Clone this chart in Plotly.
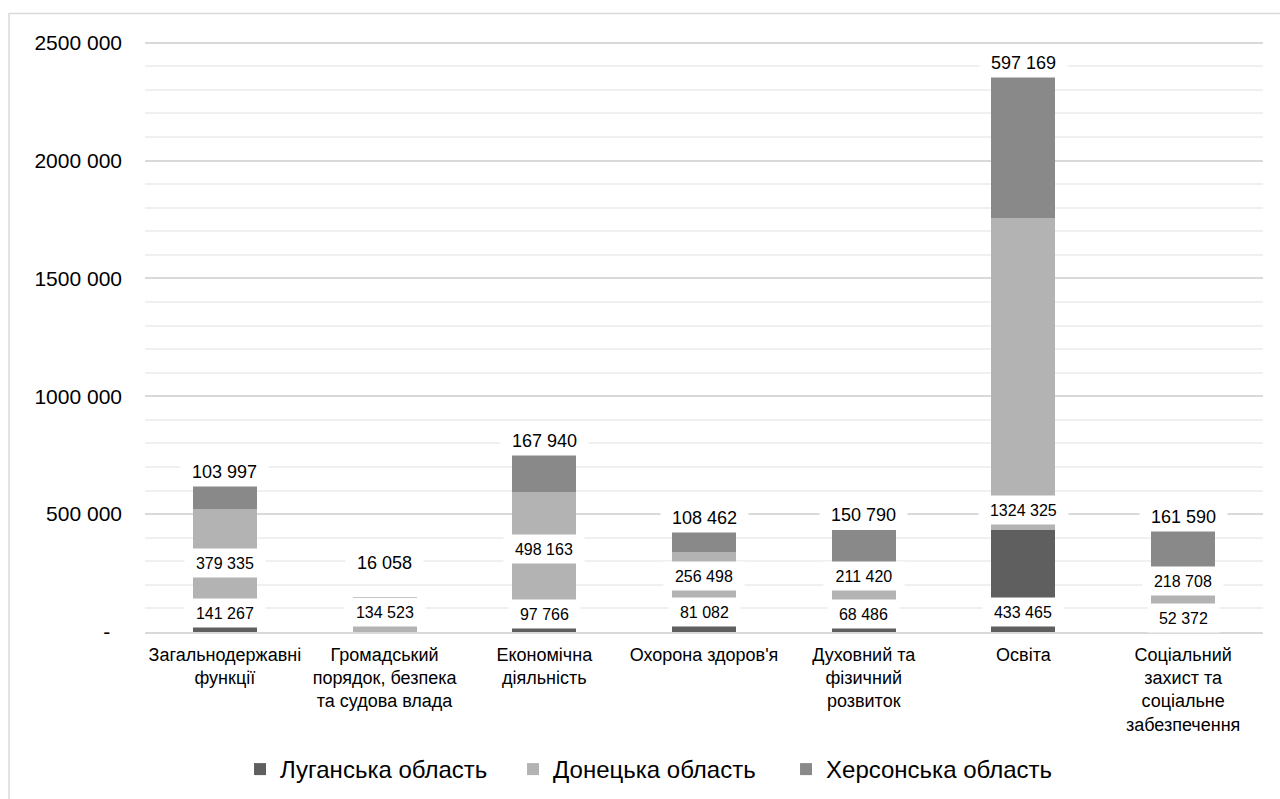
import plotly.graph_objects as go

categories = [
    "Загальнодержавні<br>функції",
    "Громадський<br>порядок, безпека<br>та судова влада",
    "Економічна<br>діяльність",
    "Охорона здоров'я",
    "Духовний та<br>фізичний<br>розвиток",
    "Освіта",
    "Соціальний<br>захист та<br>соціальне<br>забезпечення",
]
series_names = ["Луганська область", "Донецька область", "Херсонська область"]
luhansk = [141267, None, 97766, 81082, 68486, 433465, 52372]
donetsk = [379335, 134523, 498163, 256498, 211420, 1324325, 218708]
kherson = [103997, 16058, 167940, 108462, 150790, 597169, 161590]

y_tickvals = [0, 500000, 1000000, 1500000, 2000000, 2500000]
y_ticktext = ["-\u00a0\u00a0", "500 000", "1000 000", "1500 000", "2000 000", "2500 000"]

# label anchor heights (data units)
luhansk_label_y = [81400, None, 78000, 86500, 77200, 84800, 60200]
donetsk_label_y = [294800, 85700, 353800, 238400, 237500, 517100, 215900]
kherson_label_y = [677400, 293500, 808900, 484400, 497100, 2415600, 486500]

colors = ["#5f5f5f", "#b3b3b3", "#898989"]
FONT = "Liberation Sans, Arial, sans-serif"


def fmt(v):
    # Excel "# ##0"-style as shown: only the last thousands group is separated
    if v >= 1000:
        return f"{v // 1000} {v % 1000:03d}"
    return str(v)


def text_w(s, size):
    w = 0
    for ch in s:
        w += 0.278 if ch == " " else 0.556
    return w * size


fig = go.Figure()
for name, vals, col in zip(series_names, [luhansk, donetsk, kherson], colors):
    fig.add_trace(go.Bar(
        x=categories, y=vals, name=name, marker=dict(color=col, line=dict(width=0)),
        width=0.4,
    ))

annotations = []
for vals, ys, size in [(luhansk, luhansk_label_y, 16), (donetsk, donetsk_label_y, 16),
                       (kherson, kherson_label_y, 18)]:
    for c, v, yy in zip(categories, vals, ys):
        if v is None or yy is None:
            continue
        t = fmt(v)
        annotations.append(dict(
            x=c, y=yy, xref="x", yref="y", text=t, showarrow=False,
            font=dict(family=FONT, size=size, color="#000000"),
            bgcolor="#ffffff", borderpad=3, width=text_w(t, size) + 16, height=22,
            align="center", valign="middle",
        ))

fig.update_layout(
    width=1280, height=799,
    margin=dict(l=145, r=17, t=37.6, b=167.3, autoexpand=False),
    barmode="stack",
    plot_bgcolor="#ffffff", paper_bgcolor="#ffffff",
    font=dict(family=FONT, color="#000000"),
    annotations=annotations,
    showlegend=True,
    legend=dict(orientation="h", x=0.085, xanchor="left", y=-0.2315, yanchor="middle",
                entrywidth=228, itemwidth=30,
                font=dict(family=FONT, size=24, color="#000000"), traceorder="normal"),
    shapes=[dict(type="rect", xref="paper", yref="paper", x0=-0.1216, x1=1.2,
                 y0=-0.6, y1=1.0414, line=dict(color="#d9d9d9", width=1.5),
                 fillcolor="rgba(0,0,0,0)", layer="below")],
)
fig.update_xaxes(
    type="category", showgrid=False, showline=True, linecolor="#d9d9d9", linewidth=2,
    ticks="", tickfont=dict(family=FONT, size=18, color="#000000"), ticklabelstandoff=5,
    range=[-0.5, 6.5], fixedrange=True,
)
fig.update_yaxes(
    range=[0, 2520000], tickvals=y_tickvals, ticktext=y_ticktext,
    showgrid=True, gridcolor="#d9d9d9", gridwidth=1.5, zeroline=False,
    minor=dict(dtick=100000, showgrid=True, gridcolor="#f0f0f0", gridwidth=1.5),
    tickfont=dict(family=FONT, size=21, color="#000000"), ticklabelstandoff=22,
    showline=False, fixedrange=True,
)

fig.write_html("out.html", config={"displayModeBar": False},
               post_script="document.body.style.margin='0';")
